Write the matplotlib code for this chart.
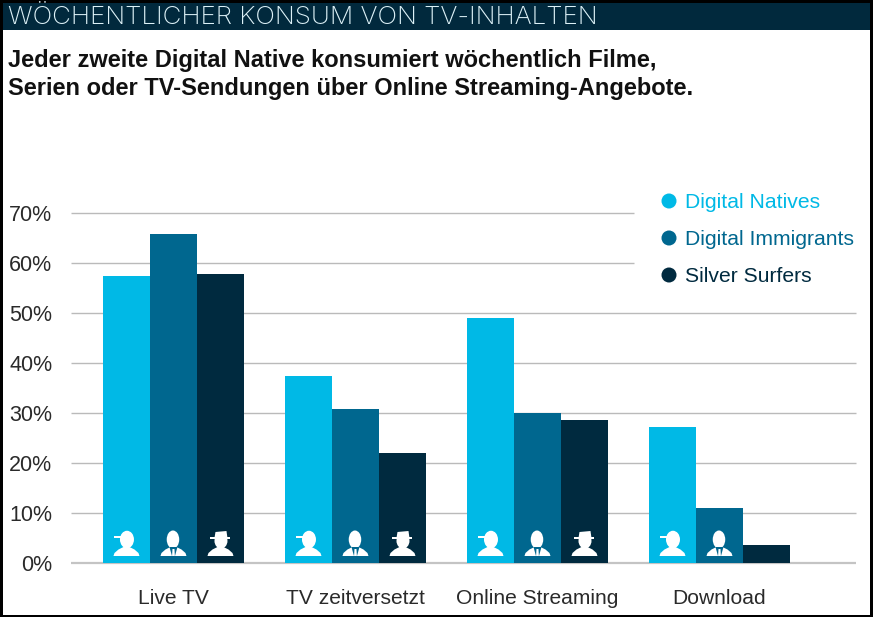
import matplotlib
matplotlib.use("Agg")
import matplotlib.pyplot as plt
from matplotlib.patches import Ellipse, Polygon, Rectangle
import numpy as np

categories = ["Live TV", "TV zeitversetzt", "Online Streaming", "Download"]
digital_natives = [57.5, 37.5, 49.0, 27.2]
digital_immigrants = [65.8, 30.8, 30.0, 11.0]
silver_surfers = [57.8, 22.0, 28.6, 3.6]
series_names = ["Digital Natives", "Digital Immigrants", "Silver Surfers"]
colors = ["#00B9E6", "#00678F", "#002A3F"]
y_ticks = [0, 10, 20, 30, 40, 50, 60, 70]
header = "WÖCHENTLICHER KONSUM VON TV-INHALTEN"
headline = "Jeder zweite Digital Native konsumiert wöchentlich Filme,\nSerien oder TV-Sendungen über Online Streaming-Angebote."

W, H = 873, 617
plt.rcParams["font.family"] = ["Liberation Sans", "DejaVu Sans"]
fig = plt.figure(figsize=(W / 100, H / 100), dpi=100)

ax = fig.add_axes([71 / W, 1 - 563 / H, (856 - 71) / W, 350 / H])
ax.set_xlim(-0.563, 3.75)
ax.set_ylim(0, 70)
ax.patch.set_alpha(0)
for s in ax.spines.values():
    s.set_visible(False)

x_positions = np.arange(len(categories))
bar_w = 47 / 182
all_series = [digital_natives, digital_immigrants, silver_surfers]

for t in y_ticks:
    right = (634 - 71) / (856 - 71) if t >= 60 else 1.0
    ax.plot([0, right], [t, t], color="#C4C4C4" if t == 0 else "#BABABA", lw=1.6 if t == 0 else 1.0,
            transform=ax.get_yaxis_transform(), zorder=1, clip_on=False, solid_capstyle="butt")

for k, vals in enumerate(all_series):
    ax.bar(x_positions + (k - 1) * bar_w, vals, bar_w, color=colors[k], zorder=2)

ax.set_yticks(y_ticks)
ax.set_yticklabels([f"{t}%" for t in y_ticks], fontsize=15.5, color="#2A2A2A")
ax.set_xticks(x_positions)
ax.set_xticklabels(categories, fontsize=15.1, color="#2A2A2A")
ax.tick_params(axis="both", length=0)
ax.tick_params(axis="x", pad=19)
ax.tick_params(axis="y", pad=13.5)

# overlay in pixel coordinates
ov = fig.add_axes([0, 0, 1, 1])
ov.set_xlim(0, W)
ov.set_ylim(H, 0)
ov.axis("off")
ov.patch.set_alpha(0)

ov.add_patch(Rectangle((0, 0), W, 30, color="#01293D", lw=0))
ov.add_patch(Rectangle((0, 0), W, 3, color="#000000", lw=0))
ov.add_patch(Rectangle((0, 0), 2.7, H, color="#000000", lw=0))
ov.add_patch(Rectangle((870, 0), 3, H, color="#000000", lw=0))
ov.add_patch(Rectangle((0, 614.5), W, 2.5, color="#000000", lw=0))

ov.text(8, 24.5, header, fontsize=18.7, color="#DDF1F7", family="Inter", fontweight="light",
        va="baseline", ha="left")
ov.text(8, 74.5, headline, fontsize=17.05, fontweight="bold", color="#111111", va="center", ha="left",
        linespacing=1.27)

legend_y = [201, 238, 275]
for name, c, yy in zip(series_names, colors, legend_y):
    ov.add_patch(Ellipse((669, yy), 15, 15, color=c, lw=0))
    ov.text(685, yy + 7, name, fontsize=15.2, color=c, va="baseline", ha="left")


def shoulders(cx):
    base = 556
    pts = [(cx - 13, base), (cx - 12, base - 3), (cx - 8, base - 6.5), (cx - 3, base - 9),
           (cx + 3, base - 9), (cx + 8, base - 6.5), (cx + 12, base - 3), (cx + 13, base)]
    ov.add_patch(Polygon(pts, closed=True, color="white", lw=0))


def icon(cx, kind):
    w = "white"
    shoulders(cx)
    if kind == 0:
        ov.add_patch(Ellipse((cx + 0.5, 539.5), 14, 17.5, color=w, lw=0))
        ov.add_patch(Rectangle((cx - 12, 536), 13, 2.2, color=w, lw=0))
    elif kind == 1:
        ov.add_patch(Ellipse((cx - 0.5, 539.5), 12.5, 18, color=w, lw=0))
        ov.add_patch(Polygon([(cx - 4, 547), (cx + 4, 547), (cx + 1.5, 556), (cx - 1.5, 556)],
                             closed=True, color=colors[1], lw=0))
        ov.add_patch(Polygon([(cx - 1, 549), (cx + 1, 549), (cx + 1.4, 556), (cx - 1.4, 556)],
                             closed=True, color=w, lw=0))
    else:
        ov.add_patch(Ellipse((cx + 0.5, 541), 13, 15, color=w, lw=0))
        ov.add_patch(Rectangle((cx - 10, 537), 20, 2.0, color=w, lw=0))
        ov.add_patch(Polygon([(cx - 6, 538), (cx - 5, 532), (cx + 6, 531), (cx + 7, 538)],
                             closed=True, color=w, lw=0))


fig.canvas.draw()
for k, vals in enumerate(all_series):
    for i, v in enumerate(vals):
        if v < 8:
            continue
        px = ax.transData.transform((i + (k - 1) * bar_w, 0))[0]
        icon(px, k)

fig.savefig("out.png", dpi=100)
